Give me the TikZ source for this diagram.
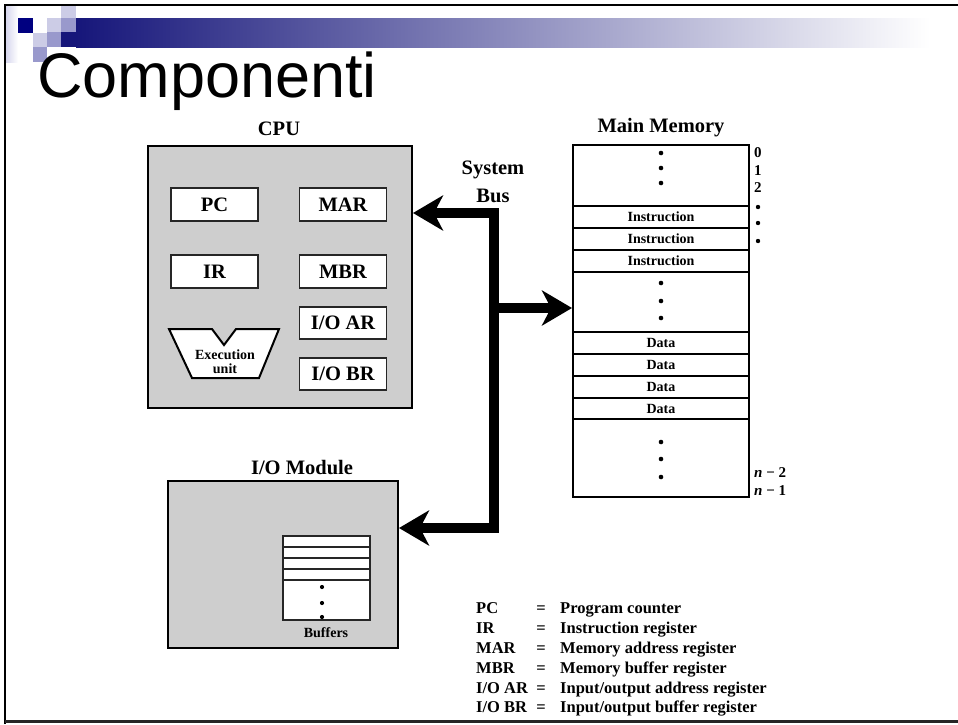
\documentclass[tikz,border=0pt]{standalone}
\usepackage{fontspec}
\setmainfont{Liberation Serif}
\newfontfamily\titlefont{Liberation Sans}
\usetikzlibrary{arrows.meta}
\definecolor{navy}{RGB}{0,0,128}
\definecolor{barnavy}{RGB}{22,22,122}
\definecolor{lav}{RGB}{204,204,230}
\definecolor{lavmed}{RGB}{153,153,204}
\definecolor{lavpale}{RGB}{215,215,238}
\definecolor{boxgray}{RGB}{206,206,206}
\begin{document}
\begin{tikzpicture}[x=1pt,y=-1pt,
  heading/.style={font=\bfseries\fontsize{20.5}{22}\selectfont, inner sep=0},
  reg/.style={draw=black!85, fill=white, line width=1.3pt, minimum width=87pt, minimum height=33pt, inner sep=0, font=\bfseries\fontsize{20.5}{22}\selectfont},
  bigbox/.style={draw=black, fill=boxgray, line width=2pt, inner sep=0},
  memtxt/.style={font=\bfseries\fontsize{14}{15}\selectfont, inner sep=0},
  sidetxt/.style={font=\bfseries\fontsize{15}{16}\selectfont, inner sep=0, anchor=west},
  legtxt/.style={font=\bfseries\fontsize{16.5}{18}\selectfont, inner sep=0, anchor=base west},
  dotmark/.style={circle, fill=black, inner sep=0, minimum size=4.6pt},
  bus/.style={line width=10pt, line join=miter},
  bustip/.tip={Stealth[length=30pt, width=35pt, inset=9pt]}
]
\useasboundingbox (0,0) rectangle (958,724);
\fill[white] (0,0) rectangle (958,724);

% ---- slide decoration ----
\shade[left color=lavpale, right color=white] (6,6) rectangle (18,62);
\fill[lav] (61,6) rectangle (76,18);
\fill[navy] (18,18) rectangle (33,33);
\fill[lav] (47,18) rectangle (61,32);
\fill[lavmed] (61,18) rectangle (76,32);
\fill[lav] (33,33) rectangle (47,47);
\fill[lavmed] (47,32) rectangle (61,47);
\fill[lavmed] (33,47) rectangle (47,62);
\fill[barnavy] (61,32) rectangle (77,47);
\shade[left color=barnavy, right color=white] (76,18) rectangle (930,47);
\fill[white] (930,18) rectangle (958,47);
\draw[line width=2.5pt] (5,724) -- (5,5) -- (958,5);
\draw[line width=3pt, black!85] (5,721.5) -- (958,721.5);

\node[anchor=base west, inner sep=0, font=\titlefont\fontsize{63}{66}\selectfont] (title) at (37,97) {Componenti};

% ---- CPU ----
\node[heading] (cpulabel) at (279,129) {CPU};
\node[bigbox, minimum width=264pt, minimum height=262pt] (cpu) at (280,277) {};
\node[reg] (pc) at (214.5,204.5) {PC};
\node[reg] (mar) at (343,204.5) {MAR};
\node[reg] (ir) at (214.5,271.5) {IR};
\node[reg] (mbr) at (343,271.5) {MBR};
\node[reg, minimum height=32pt] (ioar) at (343,323) {I/O AR};
\node[reg, minimum height=32pt] (iobr) at (343,374) {I/O BR};
\draw[line width=2pt, fill=white, line join=miter] (169,329) -- (212,329) -- (224,345) -- (236,329) -- (279,329) -- (259,378) -- (192,378) -- cycle;
\node[font=\bfseries\fontsize{14}{15}\selectfont, inner sep=0] (exe1) at (225,355) {Execution};
\node[font=\bfseries\fontsize{14}{15}\selectfont, inner sep=0] (exe2) at (225,369) {unit};

% ---- Main memory ----
\node[heading] (memlabel) at (661,128) {Main Memory};
\node[draw=black, fill=white, line width=2pt, minimum width=176pt, minimum height=352pt, inner sep=0] (mem) at (661,321) {};
\foreach \yy in {206,228,250,272,332,354,376,398,419}
  \draw[line width=2pt] (573,\yy) -- (749,\yy);
\foreach \yy/\nm in {153/a,168/b,183/c,283/d,301/e,318/f,442/g,459/h,477/i}
  \node[dotmark] (md\nm) at (661,\yy) {};
\node[memtxt] (ins1) at (661,216.5) {Instruction};
\node[memtxt] (ins2) at (661,238.5) {Instruction};
\node[memtxt] (ins3) at (661,260.5) {Instruction};
\node[memtxt] (dat1) at (661,343) {Data};
\node[memtxt] (dat2) at (661,365) {Data};
\node[memtxt] (dat3) at (661,387) {Data};
\node[memtxt] (dat4) at (661,408.5) {Data};
\node[sidetxt] (a0) at (754,153) {0};
\node[sidetxt] (a1) at (754,171) {1};
\node[sidetxt] (a2) at (754,188) {2};
\foreach \yy/\nm in {207/a,223/b,241/c}
  \node[dotmark, minimum size=4.4pt] (sd\nm) at (758,\yy) {};
\node[sidetxt] (an2) at (754,473) {\textit{n} − 2};
\node[sidetxt] (an1) at (754,491) {\textit{n} − 1};

% ---- System bus ----
\node[heading] (sys1) at (493,170) {System};
\node[heading] (sys2) at (493,196) {Bus};
\coordinate (bustop) at (494,213);
\coordinate (busmid) at (494,308);
\coordinate (busbot) at (494,528);

% ---- I/O module ----
\node[heading] (iolabel) at (302,468) {I/O Module};
\node[bigbox, minimum width=230pt, minimum height=167pt] (io) at (283,564.5) {};
\node[draw=black!85, fill=white, line width=1.3pt, minimum width=87pt, minimum height=84pt, inner sep=0] (buf) at (326.5,578) {};
\foreach \yy in {547,558,569,580}
  \draw[line width=1.3pt, black!85] (283,\yy) -- (370,\yy);
\foreach \yy/\nm in {587/a,603/b,617/c}
  \node[dotmark, minimum size=4.2pt] (bd\nm) at (322,\yy) {};
\node[memtxt] (buflabel) at (326,633) {Buffers};

% ---- bus connectors ----
\draw[bus, bustip-bustip] (cpu.east |- bustop) -- (bustop) -- (busbot) -- (io.east |- busbot);
\draw[bus, -bustip] (busmid) -- (mem.west |- busmid);

% ---- legend ----
\foreach \yy/\ab/\desc [count=\i] in {
  613/PC/Program counter,
  633/IR/Instruction register,
  653/MAR/Memory address register,
  673/MBR/Memory buffer register,
  693/I\slash O AR/Input\slash output address register,
  712/I\slash O BR/Input\slash output buffer register}{
  \node[legtxt] (lab\i) at (476,\yy) {\ab};
  \node[font=\bfseries\fontsize{16.5}{18}\selectfont, inner sep=0, anchor=base] (leq\i) at (541,\yy) {=};
  \node[legtxt] (ldesc\i) at (560,\yy) {\desc};
}
\end{tikzpicture}
\end{document}
